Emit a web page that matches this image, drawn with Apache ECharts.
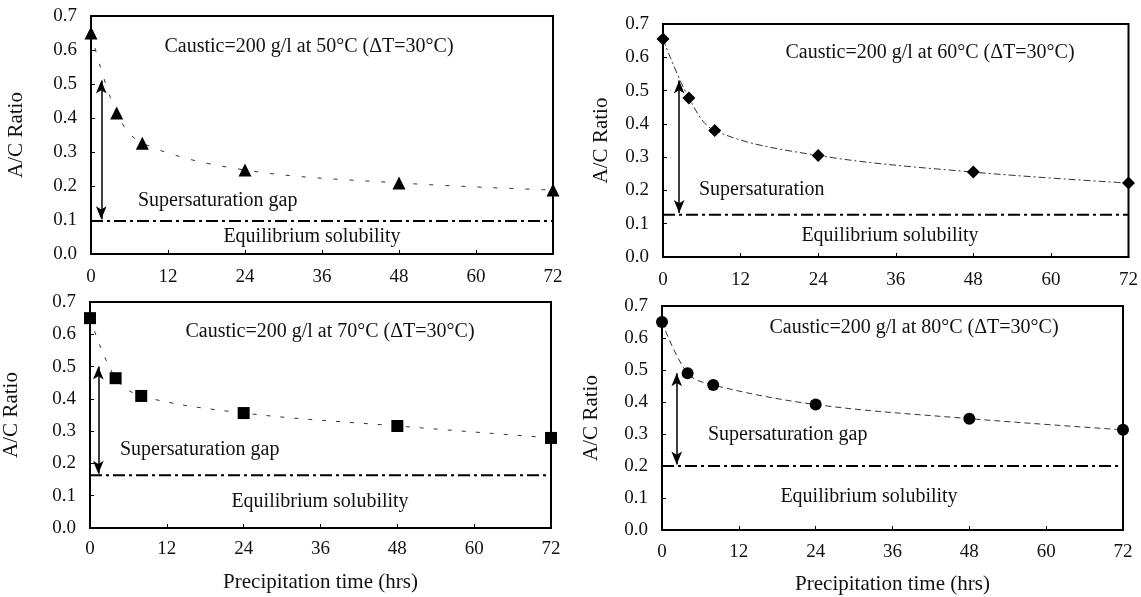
<!DOCTYPE html>
<html>
<head>
<meta charset="utf-8">
<script src="https://cdn.jsdelivr.net/npm/echarts@6/dist/echarts.min.js"></script>
<style>
  html, body { margin: 0; padding: 0; background: #fff; }
  #chart { width: 1141px; height: 597px; }
</style>
</head>
<body>
<div id="chart"></div>
<script>
// precipitation time (hrs) and A/C ratio
var hours = [0, 4, 8, 24, 48, 72];
var ratio50 = [0.65, 0.415, 0.326, 0.247, 0.209, 0.188];
var ratio60 = [0.655, 0.478, 0.38, 0.305, 0.255, 0.222];
var ratio70 = [0.65, 0.464, 0.409, 0.356, 0.316, 0.279];
var ratio80 = [0.65, 0.49, 0.453, 0.392, 0.348, 0.313];
var equilibrium = [0.097, 0.127, 0.163, 0.2];
var gapTop = [0.51, 0.53, 0.5, 0.49];
var arrowHour = [1.6, 2.5, 1.3, 2.3];
var temps = ['50', '60', '70', '80'];
var gapLabels = ['Supersaturation gap', 'Supersaturation', 'Supersaturation gap', 'Supersaturation gap'];

var ratios = [ratio50, ratio60, ratio70, ratio80];
var symbols = ['triangle', 'diamond', 'rect', 'circle'];
var symbolSizes = [13, 13, 12, 12];
var curveDash = [[4, 12], [7, 3, 2, 3], [4, 10], [6, 4]];

var serif = '"Liberation Serif", "DejaVu Serif", serif';

var grids = [
    { left: 91, top: 16, width: 462, height: 238 },
    { left: 663, top: 24, width: 467, height: 233 },
    { left: 89, top: 302, width: 462, height: 226 },
    { left: 662, top: 306, width: 461, height: 224 }
];
var yNameGap = [64, 51, 68, 60];
var xLabelMargin = [14, 14, 12, 13];

var chartDom = document.getElementById('chart');
var myChart = echarts.init(chartDom);

var xAxes = [], yAxes = [], series = [];
for (var i = 0; i < 4; i++) {
    grids[i].show = true;
    grids[i].borderColor = '#000';
    grids[i].borderWidth = 2;
    xAxes.push({
        type: 'value', gridIndex: i, min: 0, max: 72, interval: 12,
        axisLine: { show: true, onZero: false, lineStyle: { color: '#000', width: 2 } },
        axisTick: { show: true, inside: true, length: 4, lineStyle: { color: '#000' } },
        axisLabel: { color: '#111', fontFamily: serif, fontSize: 19, margin: xLabelMargin[i] },
        splitLine: { show: false },
        name: i >= 2 ? 'Precipitation time (hrs)' : '',
        nameLocation: 'middle', nameGap: 44,
        nameTextStyle: { color: '#111', fontFamily: serif, fontSize: 21 }
    });
    yAxes.push({
        type: 'value', gridIndex: i, min: 0, max: 0.7, interval: 0.1,
        axisLine: { show: true, lineStyle: { color: '#000', width: 2 } },
        axisTick: { show: true, inside: true, length: 4, lineStyle: { color: '#000' } },
        axisLabel: {
            color: '#111', fontFamily: serif, fontSize: 19, margin: 14,
            formatter: function (v) { return v.toFixed(1); }
        },
        splitLine: { show: false },
        name: 'A/C Ratio', nameLocation: 'middle', nameGap: yNameGap[i], nameRotate: 90,
        nameTextStyle: { color: '#111', fontFamily: serif, fontSize: 21 }
    });

    var pts = hours.map(function (h, k) { return [h, ratios[i][k]]; });
    series.push({
        type: 'line', xAxisIndex: i, yAxisIndex: i, data: pts,
        smooth: 0.35, clip: false,
        symbol: symbols[i], symbolSize: symbolSizes[i],
        itemStyle: { color: '#000' },
        lineStyle: { color: '#333', width: 1, type: curveDash[i] },
        z: 5
    });
    series.push({
        type: 'line', xAxisIndex: i, yAxisIndex: i,
        data: [[0, equilibrium[i]], [72, equilibrium[i]]],
        symbol: 'none', clip: false,
        lineStyle: { color: '#000', width: 2, type: [12, 4, 3, 4] },
        markLine: {
            silent: true, symbol: ['arrow', 'arrow'], symbolSize: [8, 13],
            label: { show: false },
            lineStyle: { color: '#000', width: 1.5, type: 'solid' },
            data: [[{ coord: [arrowHour[i], gapTop[i]] }, { coord: [arrowHour[i], equilibrium[i] + 0.005] }]]
        },
        z: 4
    });
}

// annotation texts
var notes = [
    { t: 'Caustic=200 g/l at ' + temps[0] + '°C (ΔT=30°C)', x: 309, y: 47, a: 'center' },
    { t: gapLabels[0], x: 138, y: 201, a: 'left' },
    { t: 'Equilibrium solubility', x: 312, y: 237, a: 'center' },
    { t: 'Caustic=200 g/l at ' + temps[1] + '°C (ΔT=30°C)', x: 930, y: 53, a: 'center' },
    { t: gapLabels[1], x: 699, y: 190, a: 'left' },
    { t: 'Equilibrium solubility', x: 890, y: 236, a: 'center' },
    { t: 'Caustic=200 g/l at ' + temps[2] + '°C (ΔT=30°C)', x: 330, y: 332, a: 'center' },
    { t: gapLabels[2], x: 120, y: 450, a: 'left' },
    { t: 'Equilibrium solubility', x: 320, y: 502, a: 'center' },
    { t: 'Caustic=200 g/l at ' + temps[3] + '°C (ΔT=30°C)', x: 914, y: 328, a: 'center' },
    { t: gapLabels[3], x: 708, y: 435, a: 'left' },
    { t: 'Equilibrium solubility', x: 869, y: 497, a: 'center' }
];
var graphic = notes.map(function (n) {
    return {
        type: 'text', x: n.x, y: n.y, z: 10,
        style: {
            text: n.t, fill: '#111', font: '20px ' + serif,
            textAlign: n.a, textVerticalAlign: 'middle'
        }
    };
});

var option = {
    backgroundColor: '#fff',
    animation: false,
    grid: grids,
    xAxis: xAxes,
    yAxis: yAxes,
    series: series,
    graphic: graphic
};
option && myChart.setOption(option);
</script>
</body>
</html>
